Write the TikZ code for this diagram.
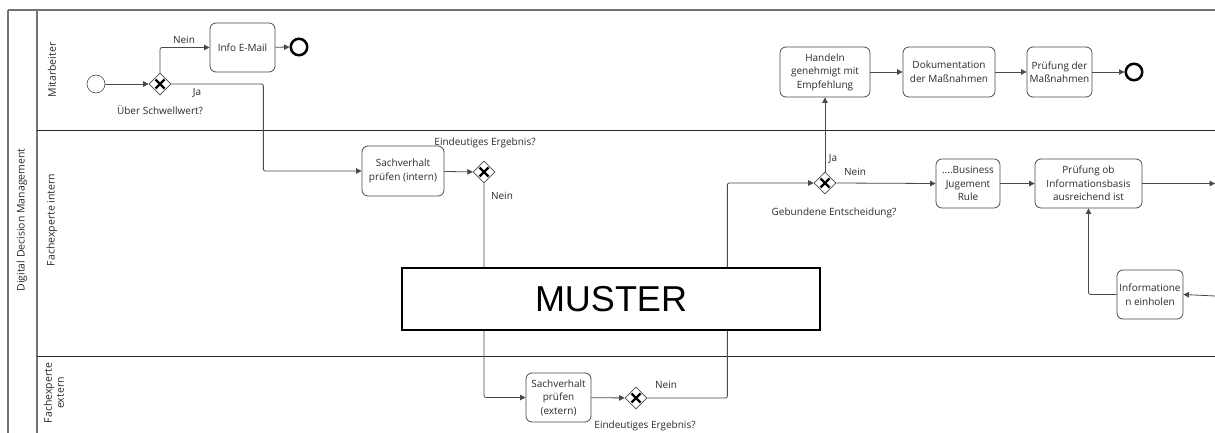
\documentclass[tikz,border=0pt]{standalone}
\usepackage{fontspec}
\setmainfont{Open Sans}
\newfontfamily\musterfont{Liberation Sans}
\usetikzlibrary{shapes.geometric,arrows.meta}
\definecolor{linec}{HTML}{4A4A4A}
\definecolor{txtc}{HTML}{2A2A2A}
\tikzset{
  x=1pt, y=-1pt,
  every node/.style={font=\fontsize{10}{13.5}\selectfont, text=txtc},
  task/.style={draw=linec, line width=0.8pt, rounded corners=6pt, align=center, inner sep=1pt},
  gw/.style={draw=linec, line width=0.7pt, diamond, minimum size=22pt, inner sep=0pt, fill=white},
  startev/.style={draw=linec, line width=0.6pt, circle, minimum size=18pt, inner sep=0pt},
  endev/.style={draw=black, line width=2.5pt, circle, minimum size=16.5pt, inner sep=0pt},
  flow/.style={draw=linec, line width=0.8pt, rounded corners=2pt, -{Triangle[length=5.5pt,width=5.5pt]}},
  lbl/.style={inner sep=0pt},
  lane/.style={draw=black!85, line width=0.8pt},
  pool/.style={draw=black!55, line width=1.5pt},
  lanelbl/.style={rotate=90, align=center, font=\fontsize{10.5}{12}\selectfont},
}
\newcommand{\gwx}[1]{\draw[black, line width=2.2pt] ([shift={(-4.5,-4.5)}]#1.center) -- ([shift={(4.5,4.5)}]#1.center) ([shift={(-4.5,4.5)}]#1.center) -- ([shift={(4.5,-4.5)}]#1.center);}
\begin{document}
\begin{tikzpicture}
\useasboundingbox (0,0) rectangle (1215,433);
% pool and lanes
\draw[pool] (8,10) -- (1215,10);
\draw[pool] (8,10) -- (8,433);
\draw[pool] (37,10) -- (37,433);
\draw[lane] (37,130) -- (1215,130);
\draw[lane] (37,356) -- (1215,356);
\node[lanelbl] (pl) at (22,220) {Digital Decision Management};
\node[lanelbl] (l1) at (52,70) {Mitarbeiter};
\node[lanelbl] (l2) at (52,220) {Fachexperte intern};
\node[lanelbl] (l3) at (54,393) {Fachexperte\\extern};
% events, gateways, tasks
\node[startev] (s) at (96,84) {};
\node[gw] (g1) at (160,84) {};
\node[task, minimum width=65pt, minimum height=49pt] (info) at (242.5,47.5) {Info E-Mail};
\node[endev] (e1) at (299,47) {};
\node[task, minimum width=82pt, minimum height=50pt] (sach1) at (403,171) {Sachverhalt\\prüfen (intern)};
\node[gw] (g2) at (484,172) {};
\node[task, minimum width=65pt, minimum height=49pt] (sach2) at (558.5,397.5) {Sachverhalt\\prüfen\\(extern)};
\node[gw] (g3) at (636,398) {};
\node[gw] (g4) at (825,183) {};
\node[task, minimum width=90pt, minimum height=50pt] (hand) at (825,72) {Handeln\\genehmigt mit\\Empfehlung};
\node[task, minimum width=92pt, minimum height=50pt] (doku) at (949,72) {Dokumentation\\der Maßnahmen};
\node[task, minimum width=65pt, minimum height=50pt] (pruef) at (1059.5,72) {Prüfung der\\Maßnahmen};
\node[endev] (e2) at (1134,72) {};
\node[task, minimum width=64pt, minimum height=49pt] (bjr) at (968,183.5) {....Business\\Jugement\\Rule};
\node[task, minimum width=107pt, minimum height=49pt] (pob) at (1088.5,183.5) {Prüfung ob\\Informationsbasis\\ausreichend ist};
\node[task, minimum width=66pt, minimum height=49pt] (info2) at (1150,294.5) {Informatione\\n einholen};
\coordinate (outr) at (1215,183.5);
\coordinate (inr) at (1215,296);
% flows
\draw[flow] (s) -- (g1);
\draw[flow] (g1.north) |- (info.west);
\draw[flow] (info) -- (e1);
\draw[flow] (g1.east) -- ++(92,0) |- (sach1.west);
\draw[flow] (sach1) -- (g2);
\draw[flow] (g2.south) |- (sach2.west);
\draw[flow] (sach2) -- (g3);
\draw[flow] (g3.east) -- ++(80,0) |- (g4.west);
\draw[flow] (g4.north) -- (hand.south);
\draw[flow] (hand) -- (doku);
\draw[flow] (doku) -- (pruef);
\draw[flow] (pruef) -- (e2);
\draw[flow] (g4.east) -- (bjr.west);
\draw[flow] (bjr) -- (pob);
\draw[flow] (pob.east) -- (outr);
\draw[flow] (inr) -- (info2.east);
\draw[flow] (info2.west) -| (pob.south);
\gwx{g1}\gwx{g2}\gwx{g3}\gwx{g4}
% labels
\node[lbl] (t1) at (184,40) {Nein};
\node[lbl] (t2) at (197,93) {Ja};
\node[lbl] (t3) at (160,110) {Über Schwellwert?};
\node[lbl] (t4) at (485,143) {Eindeutiges Ergebnis?};
\node[lbl] (t5) at (502,196) {Nein};
\node[lbl] (t6) at (666,385) {Nein};
\node[lbl] (t7) at (645,426) {Eindeutiges Ergebnis?};
\node[lbl] (t8) at (833,159) {Ja};
\node[lbl] (t9) at (855,172) {Nein};
\node[lbl] (t10) at (834,213) {Gebundene Entscheidung?};
% watermark box
\node[draw=black, line width=1.2pt, fill=white, minimum width=418pt, minimum height=62pt, inner sep=0pt, font=\musterfont\fontsize{36}{40}\selectfont, text=black] (muster) at (611,299) {MUSTER};
\end{tikzpicture}
\end{document}
